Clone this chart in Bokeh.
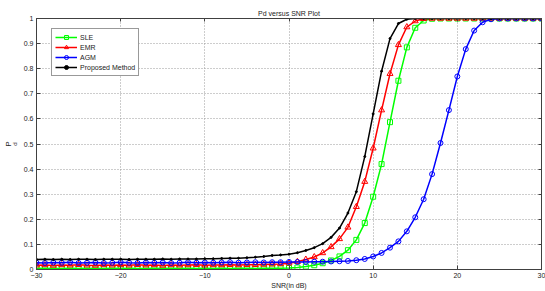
from bokeh.plotting import figure
from bokeh.models import Range1d, LinearAxis, FixedTicker, Legend, LegendItem
from bokeh.embed import file_html
from bokeh.resources import INLINE

# ---- data ----
snr = list(range(-30, 31))

sle = [0.004, 0.005, 0.004, 0.004, 0.005, 0.004, 0.005, 0.004, 0.004, 0.005,
       0.004, 0.005, 0.004, 0.004, 0.005, 0.004, 0.005, 0.004, 0.005, 0.004,
       0.005, 0.004, 0.005, 0.004, 0.005, 0.005, 0.004, 0.005, 0.005, 0.005,
       0.006, 0.008, 0.012, 0.017, 0.025, 0.036, 0.052, 0.077, 0.118, 0.185,
       0.29, 0.42, 0.587, 0.752, 0.885, 0.963, 0.992, 0.999, 1.0, 1.0,
       1.0, 1.0, 1.0, 1.0, 1.0, 1.0, 1.0, 1.0, 1.0, 1.0, 1.0]

emr = [0.017, 0.018, 0.016, 0.018, 0.017, 0.019, 0.017, 0.016, 0.018, 0.017,
       0.018, 0.017, 0.019, 0.017, 0.018, 0.016, 0.018, 0.017, 0.018, 0.019,
       0.017, 0.018, 0.018, 0.019, 0.018, 0.019, 0.019, 0.020, 0.021, 0.022,
       0.025, 0.031, 0.040, 0.050, 0.066, 0.090, 0.122, 0.168, 0.250, 0.350,
       0.483, 0.635, 0.780, 0.895, 0.966, 0.990, 0.999, 1.0, 1.0, 1.0,
       1.0, 1.0, 1.0, 1.0, 1.0, 1.0, 1.0, 1.0, 1.0, 1.0, 1.0]

agm = [0.027, 0.026, 0.028, 0.027, 0.029, 0.026, 0.027, 0.028, 0.026, 0.027,
       0.029, 0.027, 0.026, 0.028, 0.027, 0.028, 0.026, 0.027, 0.029, 0.027,
       0.028, 0.027, 0.028, 0.029, 0.027, 0.028, 0.029, 0.028, 0.029, 0.029,
       0.030, 0.030, 0.030, 0.031, 0.031, 0.032, 0.033, 0.034, 0.037, 0.042,
       0.052, 0.066, 0.087, 0.112, 0.152, 0.208, 0.280, 0.380, 0.504, 0.635,
       0.769, 0.878, 0.952, 0.985, 0.997, 1.0, 1.0, 1.0, 1.0, 1.0, 1.0]

proposed = [0.040, 0.041, 0.040, 0.041, 0.040, 0.041, 0.041, 0.040, 0.041, 0.041,
            0.041, 0.040, 0.041, 0.041, 0.041, 0.042, 0.041, 0.042, 0.042, 0.042,
            0.043, 0.043, 0.044, 0.045, 0.045, 0.047, 0.049, 0.052, 0.056, 0.058,
            0.061, 0.067, 0.076, 0.087, 0.103, 0.128, 0.165, 0.225, 0.310, 0.450,
            0.620, 0.790, 0.920, 0.980, 0.997, 1.0, 1.0, 1.0, 1.0, 1.0,
            1.0, 1.0, 1.0, 1.0, 1.0, 1.0, 1.0, 1.0, 1.0, 1.0, 1.0]

x_ticks = [-30, -20, -10, 0, 10, 20, 30]
y_ticks = [0, 0.1, 0.2, 0.3, 0.4, 0.5, 0.6, 0.7, 0.8, 0.9, 1]
y_tick_labels = ["0", "0.1", "0.2", "0.3", "0.4", "0.5", "0.6", "0.7", "0.8", "0.9", "1"]

title_text = "Pd versus SNR Plot"
x_label = "SNR(in dB)"
y_label_main = "P"
y_label_sub = "d"
series_names = ["SLE", "EMR", "AGM", "Proposed Method"]

# ---- figure ----
FONT = "Liberation Sans"
AX = "#404040"
TXT = "#222222"

p = figure(width=545, height=291, output_backend="svg", toolbar_location=None,
           x_range=Range1d(-30, 30), y_range=Range1d(0, 1),
           min_border_left=36, min_border_right=4, min_border_top=18, min_border_bottom=21,
           title=title_text)
p.background_fill_color = "white"
p.border_fill_color = "white"
p.outline_line_color = AX
p.outline_line_width = 1

p.title.align = "center"
p.title.text_font = FONT
p.title.text_font_size = "7px"
p.title.text_font_style = "normal"
p.title.text_color = TXT
p.title.standoff = 4

xt = FixedTicker(ticks=x_ticks)
yt = FixedTicker(ticks=y_ticks)

xa = p.xaxis[0]
xa.ticker = xt
xa.axis_label = x_label
xa.axis_label_text_font = FONT
xa.axis_label_text_font_size = "7px"
xa.axis_label_text_font_style = "normal"
xa.axis_label_text_color = TXT
xa.axis_label_standoff = 1

ya = p.yaxis[0]
ya.ticker = yt
ya.major_label_overrides = {t: s for t, s in zip(y_ticks, y_tick_labels)}
ya.axis_label = y_label_sub
ya.axis_label_text_font = FONT
ya.axis_label_text_font_size = "6px"
ya.axis_label_text_font_style = "normal"
ya.axis_label_text_color = TXT
ya.axis_label_standoff = 3

for ax in (xa, ya):
    ax.major_tick_in = 4
    ax.major_tick_out = 0
    ax.minor_tick_line_color = None
    ax.major_tick_line_color = AX
    ax.axis_line_color = AX
    ax.major_label_text_font = FONT
    ax.major_label_text_font_size = "7px"
    ax.major_label_text_color = TXT
    ax.major_label_standoff = 3

# outer left axis carrying only the main part of the y label ("P")
ya2 = LinearAxis(ticker=yt, bounds=(0, 0.955),
                 major_label_overrides={t: "" for t in y_ticks},
                 major_label_standoff=0, major_tick_in=0, major_tick_out=0,
                 major_tick_line_color=None, minor_tick_line_color=None,
                 axis_line_color=None,
                 axis_label=y_label_main, axis_label_text_font=FONT,
                 axis_label_text_font_size="8px", axis_label_text_font_style="normal",
                 axis_label_text_color=TXT, axis_label_standoff=-4)
p.add_layout(ya2, "left")

top = LinearAxis(ticker=xt, major_label_overrides={t: "" for t in x_ticks},
                 major_label_standoff=0, major_tick_in=3, major_tick_out=0,
                 minor_tick_line_color=None, major_tick_line_color=AX, axis_line_color=AX)
right = LinearAxis(ticker=yt, major_label_overrides={t: "" for t in y_ticks},
                   major_label_standoff=0, major_tick_in=3, major_tick_out=0,
                   minor_tick_line_color=None, major_tick_line_color=AX, axis_line_color=AX)
p.add_layout(top, "above")
p.add_layout(right, "right")

for g in (p.xgrid[0], p.ygrid[0]):
    g.grid_line_color = "#9a9a9a"
    g.grid_line_dash = "1 2"
    g.grid_line_width = 1

# ---- series ----
LW = 1.5
l1 = p.line(snr, sle, line_color="#00ff00", line_width=LW)
m1 = p.scatter(snr, sle, marker="square", size=5, line_color="#00ff00", fill_color=None, line_width=1)
l2 = p.line(snr, emr, line_color="#ff0000", line_width=LW)
m2 = p.scatter(snr, emr, marker="triangle", size=6, line_color="#ff0000", fill_color=None, line_width=1)
l3 = p.line(snr, agm, line_color="#0000ff", line_width=LW)
m3 = p.scatter(snr, agm, marker="circle", size=5, line_color="#0000ff", fill_color=None, line_width=1)
l4 = p.line(snr, proposed, line_color="black", line_width=LW)
m4 = p.scatter(snr, proposed, marker="circle", size=2, line_color="black", fill_color="black")

items = [LegendItem(label=series_names[0], renderers=[l1, m1]),
         LegendItem(label=series_names[1], renderers=[l2, m2]),
         LegendItem(label=series_names[2], renderers=[l3, m3]),
         LegendItem(label=series_names[3], renderers=[l4, m4])]
leg = Legend(items=items, location=(15, 193), orientation="vertical",
             border_line_color="#333333", border_line_width=1,
             background_fill_color="white", background_fill_alpha=1.0,
             label_text_font=FONT, label_text_font_size="7px", label_text_color=TXT,
             glyph_width=22, glyph_height=10, label_height=10, spacing=0,
             padding=3, margin=0, label_standoff=3)
p.add_layout(leg, "center")

open("out.html", "w").write(file_html(p, INLINE))
